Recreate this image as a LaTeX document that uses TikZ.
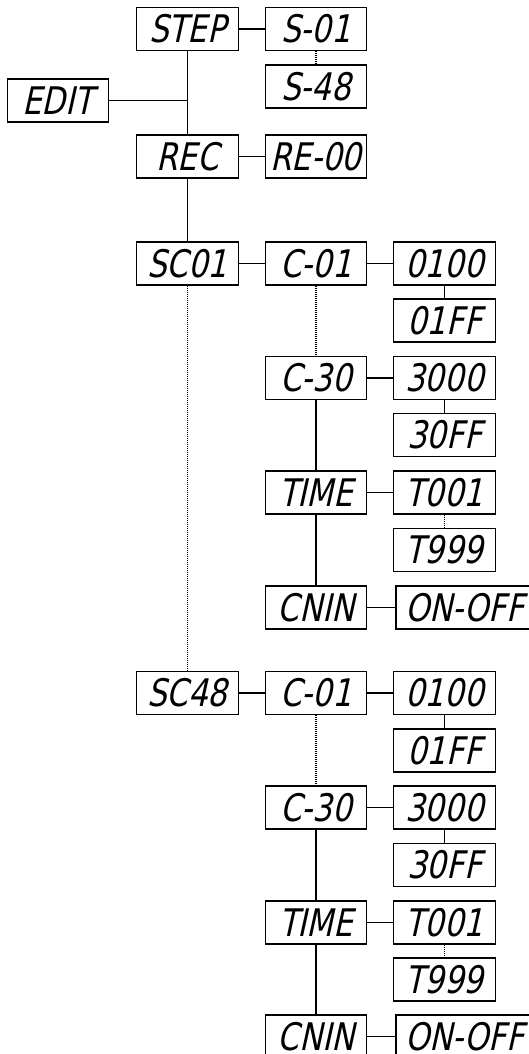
\documentclass[tikz,border=0pt]{standalone}
\usepackage{fontspec}
\newfontfamily\lcdfont[FakeSlant=0.22,FakeStretch=0.9]{DejaVu Sans Condensed}
\begin{document}
\begin{tikzpicture}[x=1pt,y=-1pt,
  lcdbox/.style={draw, line width=1.3pt, minimum width=101.5pt, minimum height=43pt,
    inner sep=0pt, text height=27.7pt, text depth=0pt,
    font={\lcdfont\fontsize{38pt}{40pt}\selectfont}},
  widebox/.style={lcdbox, minimum width=137pt},
  link/.style={line width=1.3pt},
  dotlink/.style={line width=1.2pt, dash pattern=on 1pt off 1pt}]
\clip (0,0) rectangle (529,1054);
\useasboundingbox (0,0) rectangle (529,1054);
% top part
\node[lcdbox] (step) at (187.5,29) {STEP};
\node[lcdbox] (s01) at (316,29) {S-01};
\node[lcdbox] (s48) at (316,86.5) {S-48};
\node[lcdbox] (edit) at (58,100.5) {EDIT};
\node[lcdbox] (rec) at (187.5,156.5) {REC};
\node[lcdbox] (re00) at (316,156.5) {RE-00};
\draw[link] (step) -- (s01);
\draw[dotlink] (s01) -- (s48);
\draw[link] (step) -- (rec);
\coordinate (j) at (edit.east -| step);
\draw[link] (edit) -- (j);
\draw[link] (rec) -- (re00);
% SC01 group
\node[lcdbox] (sca) at (187.5,263.5) {SC01};
\node[lcdbox] (ca1) at (316,263.5) {C-01};
\node[lcdbox] (va1) at (444.5,263.5) {0100};
\node[lcdbox] (vb1) at (444.5,320.5) {01FF};
\node[lcdbox] (ca30) at (316,378) {C-30};
\node[lcdbox] (va30) at (444.5,378) {3000};
\node[lcdbox] (vb30) at (444.5,435) {30FF};
\node[lcdbox] (tia) at (316,492.5) {TIME};
\node[lcdbox] (ta1) at (444.5,492.5) {T001};
\node[lcdbox] (ta9) at (444.5,550) {T999};
\node[lcdbox] (cna) at (316,607.5) {CNIN};
\node[widebox] (ona) at (464.5,607.5) {ON-OFF};
\draw[link] (rec) -- (sca);
\draw[link] (sca) -- (ca1);
\draw[link] (ca1) -- (va1);
\draw[link] (va1) -- (vb1);
\draw[dotlink] (ca1) -- (ca30);
\draw[link] (ca30) -- (va30);
\draw[link] (va30) -- (vb30);
\draw[link] (ca30) -- (tia);
\draw[link] (tia) -- (ta1);
\draw[dotlink] (ta1) -- (ta9);
\draw[link] (tia) -- (cna);
\draw[link] (cna) -- (ona);
% SC48 group
\node[lcdbox] (scb) at (187.5,693) {SC48};
\node[lcdbox] (cb1) at (316,693) {C-01};
\node[lcdbox] (wa1) at (444.5,693) {0100};
\node[lcdbox] (wb1) at (444.5,750.5) {01FF};
\node[lcdbox] (cb30) at (316,807.5) {C-30};
\node[lcdbox] (wa30) at (444.5,807.5) {3000};
\node[lcdbox] (wb30) at (444.5,865) {30FF};
\node[lcdbox] (tib) at (316,922.5) {TIME};
\node[lcdbox] (tb1) at (444.5,922.5) {T001};
\node[lcdbox] (tb9) at (444.5,979.5) {T999};
\node[lcdbox] (cnb) at (316,1036.5) {CNIN};
\node[widebox] (onb) at (464.5,1036.5) {ON-OFF};
\draw[dotlink] (sca) -- (scb);
\draw[link] (scb) -- (cb1);
\draw[link] (cb1) -- (wa1);
\draw[link] (wa1) -- (wb1);
\draw[dotlink] (cb1) -- (cb30);
\draw[link] (cb30) -- (wa30);
\draw[link] (wa30) -- (wb30);
\draw[link] (cb30) -- (tib);
\draw[link] (tib) -- (tb1);
\draw[dotlink] (tb1) -- (tb9);
\draw[link] (tib) -- (cnb);
\draw[link] (cnb) -- (onb);
\end{tikzpicture}
\end{document}
